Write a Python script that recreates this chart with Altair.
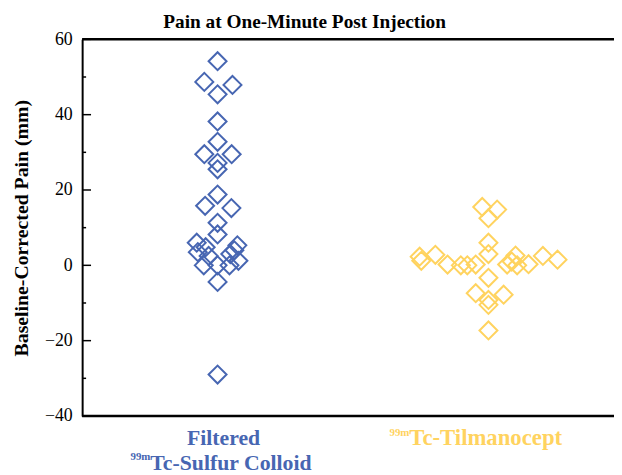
import altair as alt
import pandas as pd

# ---- data ----
groups = ["Filtered 99mTc-Sulfur Colloid", "99mTc-Tilmanocept"]
colors = ["#4766B2", "#FFD35F"]

sc_values = [54.2, 48.7, 47.9, 45.4, 38.2, 32.8, 29.5, 29.5, 27.2, 25.5, 18.8,
             15.8, 15.2, 11.3, 8.2, 6.0, 3.5, 4.8, 2.5, 0.0, 0.0, 3.0, 5.3,
             4.0, 1.2, 0.0, -4.4, -29.0]
sc_spread = [0.0, -0.049, 0.055, 0.0, 0.0, 0.0, -0.049, 0.052, 0.0, 0.0, 0.0,
             -0.046, 0.051, 0.0, 0.0, -0.077, -0.073, -0.044, -0.033, -0.051,
             0.0, 0.047, 0.073, 0.062, 0.077, 0.044, 0.0, 0.0]

tc_values = [15.5, 14.8, 12.5, 6.0, 3.0, 2.3, 1.2, 2.8, 0.2, 0.0, 0.0, 0.2,
             0.2, 1.0, 2.6, 0.0, 0.3, 2.5, 1.5, -3.3, -7.4, -7.8, -9.2,
             -10.5, -17.3]
tc_spread = [-0.023, 0.032, 0.0, 0.0, 0.0, -0.254, -0.248, -0.196, -0.151,
             -0.102, -0.078, -0.047, 0.069, 0.086, 0.100, 0.106, 0.148, 0.201,
             0.255, 0.0, -0.047, 0.056, 0.0, 0.0, 0.0]

y_major = [-40, -20, 0, 20, 40, 60]
y_minor = [-30, -10, 10, 30, 50]

title_text = "Pain at One-Minute Post Injection"
y_title = "Baseline-Corrected Pain (mm)"

FONT = "Liberation Serif"
W, H = 538, 381

rows = []
for i, (vals, spr) in enumerate([(sc_values, sc_spread), (tc_values, tc_spread)]):
    for v, s in zip(vals, spr):
        rows.append({"group": groups[i], "pos": i + 1 + s, "value": v})
df = pd.DataFrame(rows)

xs = alt.Scale(domain=[0.5, 0.5 + W / 274.0], nice=False, zero=False)
ys = alt.Scale(domain=[-40, 60], nice=False, zero=False)

y_axis = alt.Axis(
    values=y_major, tickSize=0, grid=False, domain=True,
    domainColor="black", domainWidth=2, labelOverlap=False,
    labelFont=FONT, labelFontSize=18, labelColor="black", labelPadding=10,
    title=y_title, titleFont=FONT, titleFontSize=20, titleFontWeight="bold",
    titleColor="black", titlePadding=13)


def yenc():
    return alt.Y("value:Q", scale=ys, axis=y_axis)


points = alt.Chart(df).mark_point(
    shape="diamond", filled=False, size=330, strokeWidth=2, opacity=1
).encode(
    x=alt.X("pos:Q", scale=xs, axis=None),
    y=yenc(),
    color=alt.Color("group:N", scale=alt.Scale(domain=groups, range=colors), legend=None),
)

frame = alt.Chart(pd.DataFrame({"value": [60, -40]})).mark_rule(
    color="black", strokeWidth=2.5
).encode(y=yenc(), x=alt.value(0), x2=alt.value(W))

major = alt.Chart(pd.DataFrame({"value": y_major})).mark_rule(
    color="black", strokeWidth=1.5
).encode(y=yenc(), x=alt.value(0), x2=alt.value(9))

minor = alt.Chart(pd.DataFrame({"value": y_minor})).mark_rule(
    color="black", strokeWidth=1.5
).encode(y=yenc(), x=alt.value(0), x2=alt.value(4))


def label(text, pos, color, size, align, dx, ybase):
    return alt.Chart(pd.DataFrame({"pos": [pos], "t": [text]})).mark_text(
        font=FONT, fontSize=size, fontWeight="bold", color=color,
        align=align, baseline="alphabetic", dx=dx
    ).encode(x=alt.X("pos:Q", scale=xs, axis=None), y=alt.value(ybase), text="t:N")


labels = [
    label("Filtered", 1, colors[0], 22, "center", 6, H + 29),
    label("99m", 1, colors[0], 11, "right", -68, H + 45),
    label("Tc-Sulfur Colloid", 1, colors[0], 22, "left", -68, H + 55),
    label("99m", 2, colors[1], 11, "right", -80, H + 20),
    label("Tc-Tilmanocept", 2, colors[1], 23, "left", -80, H + 29),
]

chart = alt.layer(points, frame, major, minor, *labels).properties(
    width=W, height=H, background="white",
    title=alt.TitleParams(title_text, font=FONT, fontSize=19.5, fontWeight="bold",
                          color="black", anchor="middle", frame="group",
                          dx=-44, offset=-2),
    autosize=alt.AutoSizeParams(type="none"),
    padding={"left": 75, "top": 29, "right": 0, "bottom": 57},
).configure_view(stroke=None)

chart.save("out.html", embed_options={"renderer": "svg", "actions": False})
